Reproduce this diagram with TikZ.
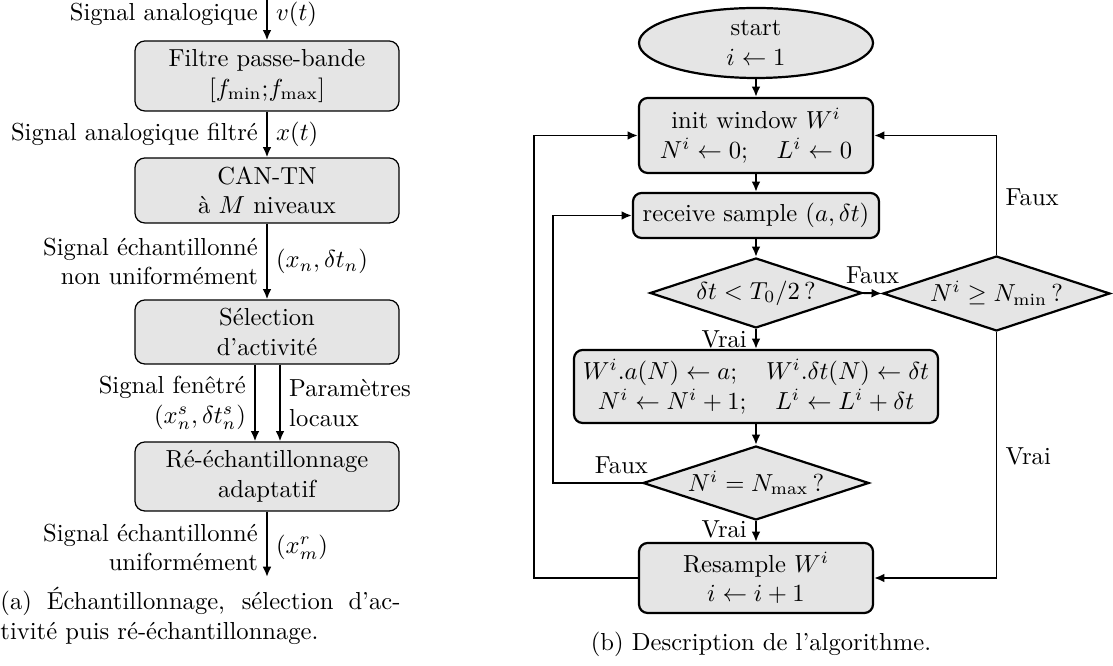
\documentclass[tikz,border=0pt]{standalone}
\usepackage{fontspec}
\usetikzlibrary{shapes.geometric,arrows.meta}
\newcommand\pxu{0.4065pt}

\begin{document}
\begin{tikzpicture}[x=\pxu, y=-\pxu,
  arr/.style={line width=0.8pt, -{Latex[length=4.2pt,width=3.6pt]}},
  lbox/.style={rectangle, rounded corners=4pt, draw, fill=gray!20,
    line width=0.5pt, minimum width=264*\pxu, align=center, inner sep=2pt},
  rbox/.style={rectangle, rounded corners=3.5pt, draw, fill=gray!20,
    line width=0.9pt, align=center, inner sep=2pt},
  decision/.style={diamond, aspect=3, draw, fill=gray!20, line width=0.9pt, inner sep=0pt},
  startnode/.style={ellipse, draw, fill=gray!20, line width=0.9pt, inner sep=0pt, align=center},
  lab/.style={inner sep=3.33pt}
]
\useasboundingbox (0,0) rectangle (1113,666);

% ---- (a) processing chain ----
\coordinate (top) at (267,0);
\node[lbox, minimum height=70*\pxu] (b1) at (267,76) {Filtre passe-bande\\$[f_{\min}{;}f_{\max}]$};
\node[lbox, minimum height=65*\pxu] (b2) at (267,190.5) {CAN-TN\\à $M$ niveaux};
\node[lbox, minimum height=64*\pxu] (b3) at (267,332) {Sélection\\d'activité};
\node[lbox, minimum height=69*\pxu] (b4) at (267,476.5) {Ré-échantillonnage\\adaptatif};
\coordinate (bot) at (267,577);

\draw[arr] (top) -- node[lab,left,pos=0.35]{Signal analogique} node[lab,right,pos=0.35]{$v(t)$} (b1.north);
\draw[arr] (b1.south) -- node[lab,left]{Signal analogique filtré} node[lab,right]{$x(t)$} (b2.north);
\draw[arr] (b2.south) -- node[lab,left,align=right]{Signal échantillonné\\non uniformément} node[lab,right]{$(x_n,\delta t_n)$} (b3.north);
\draw[arr] ([xshift=-12*\pxu]b3.south) -- node[lab,left,align=right]{Signal fenêtré\\$(x^s_n,\delta t^s_n)$} ([xshift=-12*\pxu]b4.north);
\draw[arr] ([xshift=13*\pxu]b3.south) -- node[lab,right,align=left]{Paramètres\\locaux} ([xshift=13*\pxu]b4.north);
\draw[arr] (b4.south) -- node[lab,left,align=right,pos=0.55]{Signal échantillonné\\uniformément} node[lab,right,pos=0.55]{$(x^r_m)$} (bot);

\node[anchor=west, inner sep=0pt, align=left] (capa) at (0,616)
  {\makebox[162.6pt][s]{(a) Échantillonnage, sélection d'ac-}\\tivité puis ré-échantillonnage.};

% ---- (b) algorithm ----
\node[startnode, minimum width=234*\pxu, minimum height=70*\pxu] (st) at (756,43) {start\\$i \leftarrow 1$};
\node[rbox, minimum width=234*\pxu, minimum height=75*\pxu] (init) at (756,135.5)
  {init window $W^i$\\$N^i \leftarrow 0;\quad L^i \leftarrow 0$};
\node[rbox, minimum width=246*\pxu, minimum height=45*\pxu] (rec) at (756,215.5)
  {receive sample $(a,\delta t)$};
\node[decision, minimum width=212*\pxu, minimum height=70*\pxu] (d1) at (756,293)
  {$\delta t < T_0/2\,?$};
\node[decision, minimum width=227*\pxu, minimum height=75*\pxu] (d2) at (996.5,293.5)
  {$N^i \geq N_{\min}\,?$};
\node[rbox, minimum width=364*\pxu, minimum height=73*\pxu] (upd) at (756,386.5)
  {$W^i.a(N) \leftarrow a;\quad W^i.\delta t(N) \leftarrow \delta t$\\$N^i \leftarrow N^i+1;\quad L^i \leftarrow L^i+\delta t$};
\node[decision, minimum width=226*\pxu, minimum height=74*\pxu] (d3) at (756,483)
  {$N^i = N_{\max}\,?$};
\node[rbox, minimum width=234*\pxu, minimum height=70*\pxu] (res) at (756,578)
  {Resample $W^i$\\$i \leftarrow i+1$};
\coordinate (loopin) at (553,0);
\coordinate (loopout) at (534,0);

\draw[arr] (st.south) -- (init.north);
\draw[arr] (init.south) -- (rec.north);
\draw[arr] (rec.south) -- (d1.north);
\draw[arr] (d1.east) -- node[lab,above]{Faux} (d2.west);
\draw[arr] (d1.south) -- node[lab,left]{Vrai} (upd.north);
\draw[arr] (upd.south) -- (d3.north);
\draw[arr] (d3.south) -- node[lab,left,pos=0.4]{Vrai} (res.north);
\draw[arr] (d3.west) -- node[lab,above,pos=0.23]{Faux} (d3.west -| loopin) |- (rec.west);
\draw[arr] (res.west) -- (res.west -| loopout) |- (init.west);
\draw[arr] (d2.north) |- node[lab,right,pos=0.24]{Faux} (init.east);
\draw[arr] (d2.south) |- node[lab,right,pos=0.253]{Vrai} (res.east);

\node[inner sep=0pt] (capb) at (761,644) {(b) Description de l'algorithme.};
\end{tikzpicture}
\end{document}
